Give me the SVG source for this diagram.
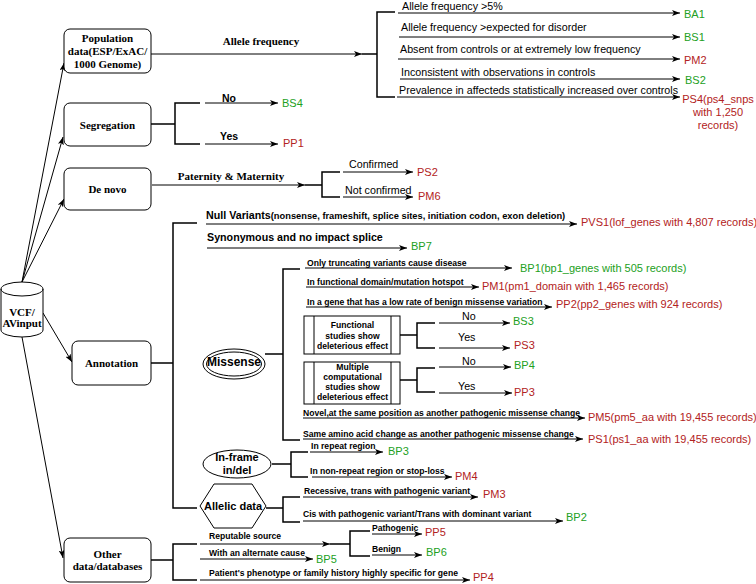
<svg xmlns="http://www.w3.org/2000/svg" width="756" height="584" viewBox="0 0 756 584">
<defs>
<marker id="a" markerWidth="8" markerHeight="6" refX="8" refY="3" orient="auto" markerUnits="userSpaceOnUse">
<path d="M0,0 L8,3 L0,6 L2,3 z" fill="#000"/>
</marker>
<style>
.box{fill:#fff;stroke:#000;stroke-width:1}
.ser{font-family:"Liberation Serif","Times New Roman",serif;font-weight:bold;font-size:11px;text-anchor:middle;fill:#000}
.l{font-family:"Liberation Sans",Arial,sans-serif;font-size:10.7px;fill:#000}
.b{font-family:"Liberation Sans",Arial,sans-serif;font-weight:bold;font-size:8.6px;fill:#000}
.bm{font-family:"Liberation Sans",Arial,sans-serif;font-weight:bold;fill:#000}
.o{font-family:"Liberation Sans",Arial,sans-serif;font-size:11px}
.g{fill:#22a022}
.r{fill:#b22222}
.ln{stroke:#000;stroke-width:1;fill:none}
.br{stroke:#000;stroke-width:1.5;fill:none}
.ar{marker-end:url(#a)}
</style>
</defs>
<rect width="756" height="584" fill="#fff"/>

<g id="connectors">
<!-- from VCF -->
<line class="ln ar" x1="22" y1="282" x2="64" y2="63"/>
<line class="ln ar" x1="22" y1="282" x2="63" y2="137"/>
<line class="ln ar" x1="22" y1="282" x2="64" y2="199"/>
<line class="ln ar" x1="43" y1="313" x2="72" y2="362"/>
<line class="ln ar" x1="22" y1="337" x2="63" y2="558"/>

<!-- population -->
<line class="ln ar" x1="151" y1="54" x2="362" y2="54"/>
<path class="br" d="M362,54 H377 M395,12 H377 V97 H395"/>
<line class="ln ar" x1="398" y1="13" x2="680" y2="13"/>
<line class="ln ar" x1="399" y1="37" x2="680" y2="37"/>
<line class="ln ar" x1="398" y1="59" x2="680" y2="59"/>
<line class="ln ar" x1="400" y1="79" x2="680" y2="79"/>
<line class="ln ar" x1="397" y1="97" x2="680" y2="97"/>
<text class="ser" x="261" y="45">Allele frequency</text>
<text class="l" x="402" y="10">Allele frequency &gt;5%</text>
<text class="l" x="401" y="31">Allele frequency &gt;expected for disorder</text>
<text class="l" x="400" y="53">Absent from controls or at extremely low frequency</text>
<text class="l" x="401" y="76">Inconsistent with observations in controls</text>
<text class="l" x="399" y="94">Prevalence in affecteds statistically increased over controls</text>

<!-- segregation -->
<path class="br" d="M151,124 H175 M200,103 H175 V144 H200"/>
<line class="ln ar" x1="205" y1="103" x2="278" y2="103"/>
<line class="ln ar" x1="205" y1="144" x2="278" y2="144"/>
<text class="bm" x="222" y="102" font-size="10.5">No</text>
<text class="bm" x="220" y="139.5" font-size="10.5">Yes</text>

<!-- de novo -->
<line class="ln ar" x1="152" y1="185" x2="305" y2="185"/>
<path class="br" d="M305,185 H322 M340,172 H322 V197 H340"/>
<line class="ln ar" x1="343" y1="172" x2="413" y2="172"/>
<line class="ln ar" x1="343" y1="197" x2="413" y2="197"/>
<text class="ser" x="231" y="180">Paternity &amp; Maternity</text>
<text class="l" x="349" y="168">Confirmed</text>
<text class="l" x="345" y="194">Not confirmed</text>

<!-- annotation -->
<path class="br" d="M151,363 H173 M197,223 H173 V508 H197"/>
<line class="ln ar" x1="206" y1="224" x2="577" y2="224"/>
<line class="ln ar" x1="207" y1="248" x2="407" y2="248"/>
<text class="bm" x="206" y="219"><tspan font-size="10.7">Null Variants</tspan><tspan font-size="9.3">(nonsense, frameshift, splice sites, initiation codon, exon deletion)</tspan></text>
<text class="bm" x="207" y="241" font-size="10.7">Synonymous and no impact splice</text>

<!-- missense -->
<path class="br" d="M265,354 H283 M300,269 H283 V440 H300"/>
<line class="ln ar" x1="305" y1="268" x2="512" y2="268"/>
<line class="ln ar" x1="306" y1="287" x2="479" y2="287"/>
<line class="ln ar" x1="306" y1="307" x2="552" y2="307"/>
<line class="ln ar" x1="303" y1="418" x2="585" y2="418"/>
<line class="ln ar" x1="303" y1="439" x2="583" y2="439"/>
<text class="b" x="307" y="266">Only truncating variants cause disease</text>
<text class="b" x="307" y="285">In functional domain/mutation hotspot</text>
<text class="b" x="307" y="304.5">In a gene that has a low rate of benign missense variation</text>
<text class="b" x="303" y="416">Novel,at the same position as another pathogenic missense change</text>
<text class="b" x="303" y="436.5">Same amino acid change as another pathogenic missense change</text>

<path class="br" d="M400,335 H417 M435,323 H417 V348 H435"/>
<line class="ln ar" x1="439" y1="323" x2="510" y2="323"/>
<line class="ln ar" x1="439" y1="348" x2="510" y2="348"/>
<text class="l" x="462" y="319.5">No</text>
<text class="l" x="458" y="341">Yes</text>

<path class="br" d="M400,380 H417 M435,368 H417 V392 H435"/>
<line class="ln ar" x1="439" y1="367" x2="511" y2="367"/>
<line class="ln ar" x1="439" y1="393" x2="512" y2="393"/>
<text class="l" x="462" y="365">No</text>
<text class="l" x="458" y="390">Yes</text>

<!-- in-frame -->
<path class="br" d="M272,464 H291 M308,452 H291 V477 H308"/>
<line class="ln ar" x1="310" y1="452" x2="383" y2="452"/>
<line class="ln ar" x1="312" y1="477" x2="452" y2="477"/>
<text class="b" x="311" y="449">In repeat region</text>
<text class="b" x="310" y="473.5">In non-repeat region or stop-loss</text>

<!-- allelic -->
<path class="br" d="M266,508 H283 M300,497 H283 V522 H300"/>
<line class="ln ar" x1="303" y1="497" x2="478" y2="497"/>
<line class="ln ar" x1="303" y1="521" x2="563" y2="521"/>
<text class="b" x="304" y="493.5">Recessive, trans with pathogenic variant</text>
<text class="b" x="303" y="516.5">Cis with pathogenic variant/Trans with dominant variant</text>

<!-- other -->
<path class="br" d="M151,560 H173 M197,544 H173 V580 H197"/>
<line class="ln ar" x1="200" y1="544" x2="330" y2="544"/>
<path class="br" d="M330,544 H350 M370,531 H350 V556 H370"/>
<line class="ln ar" x1="372" y1="534" x2="422" y2="534"/>
<line class="ln ar" x1="372" y1="555" x2="422" y2="555"/>
<line class="ln ar" x1="200" y1="559" x2="313" y2="559"/>
<line class="ln ar" x1="200" y1="580" x2="470" y2="580"/>
<text class="b" x="209" y="539">Reputable source</text>
<text class="b" x="372" y="531">Pathogenic</text>
<text class="b" x="372" y="552">Benign</text>
<text class="b" x="209" y="556">With an alternate cause</text>
<text class="b" x="209" y="575.5">Patient's phenotype or family history highly specific for gene</text>
</g>

<g id="vcf">
<path class="box" d="M1,289 A21,7 0 0 1 43,289 V330 A21,7 0 0 1 1,330 Z"/>
<path class="ln" d="M1,289 A21,7 0 0 0 43,289"/>
<text class="ser" x="22" y="316">VCF/</text>
<text class="ser" x="22" y="327">AVinput</text>
</g>

<g id="population">
<rect class="box" x="64" y="29" width="87" height="44" rx="6"/>
<text class="ser" x="107.5" y="41.5">Population</text>
<text class="ser" x="107.5" y="54.5">data(ESP/ExAC/</text>
<text class="ser" x="107.5" y="67.5">1000 Genome)</text>
</g>

<g id="segregation">
<rect class="box" x="64" y="103" width="87" height="43" rx="6"/>
<text class="ser" x="107.5" y="129">Segregation</text>
</g>

<g id="denovo">
<rect class="box" x="64" y="168" width="87" height="42" rx="6"/>
<text class="ser" x="107.5" y="193">De novo</text>
</g>

<g id="annotation">
<rect class="box" x="72" y="341" width="79" height="44" rx="6"/>
<text class="ser" x="111.5" y="367">Annotation</text>
</g>

<g id="other">
<rect class="box" x="64" y="538" width="87" height="44" rx="6"/>
<text class="ser" x="107.5" y="558">Other</text>
<text class="ser" x="107.5" y="570">data/databases</text>
</g>

<g id="missense">
<ellipse class="box" cx="234" cy="364" rx="31" ry="15"/>
<ellipse class="ln" cx="234" cy="364" rx="27.5" ry="12"/>
<text class="bm" x="234" y="365.5" font-size="12" text-anchor="middle">Missense</text>
</g>

<g id="functional">
<rect class="box" x="304" y="316" width="96" height="38"/>
<path class="ln" d="M314,316 V354 M391,316 V354"/>
<text class="b" x="352.5" y="328" text-anchor="middle">Functional</text>
<text class="b" x="352.5" y="338.5" text-anchor="middle">studies show</text>
<text class="b" x="352.5" y="349" text-anchor="middle">deleterious effect</text>
</g>

<g id="computational">
<rect class="box" x="304" y="362" width="96" height="42"/>
<path class="ln" d="M314,362 V404 M391,362 V404"/>
<text class="b" x="352.5" y="370" text-anchor="middle">Multiple</text>
<text class="b" x="352.5" y="380" text-anchor="middle">computational</text>
<text class="b" x="352.5" y="390" text-anchor="middle">studies show</text>
<text class="b" x="352.5" y="400" text-anchor="middle">deleterious effect</text>
</g>

<g id="inframe">
<ellipse class="box" cx="237" cy="464" rx="34" ry="14"/>
<text class="bm" x="237" y="461" font-size="11" text-anchor="middle">In-frame</text>
<text class="bm" x="237" y="474" font-size="11" text-anchor="middle">in/del</text>
</g>

<g id="allelic">
<polygon class="box" points="200,506 214,484 252,484 266,506 252,528 214,528"/>
<text class="bm" x="233" y="509.5" font-size="11" text-anchor="middle">Allelic data</text>
</g>

<g id="BA1"><text class="o g" x="684" y="18">BA1</text></g>
<g id="BS1"><text class="o g" x="684" y="41">BS1</text></g>
<g id="PM2"><text class="o r" x="684" y="64">PM2</text></g>
<g id="BS2"><text class="o g" x="685" y="84">BS2</text></g>
<g id="PS4"><text class="o r" x="718" y="103" text-anchor="middle">PS4(ps4_snps</text><text class="o r" x="718" y="116" text-anchor="middle">with 1,250</text><text class="o r" x="718" y="129" text-anchor="middle">records)</text></g>
<g id="BS4"><text class="o g" x="282" y="107">BS4</text></g>
<g id="PP1"><text class="o r" x="283" y="147">PP1</text></g>
<g id="PS2"><text class="o r" x="417" y="176">PS2</text></g>
<g id="PM6"><text class="o r" x="418" y="200">PM6</text></g>
<g id="PVS1"><text class="o r" x="581" y="226">PVS1(lof_genes with 4,807 records)</text></g>
<g id="BP7"><text class="o g" x="411" y="250">BP7</text></g>
<g id="BP1"><text class="o g" x="520" y="272">BP1(bp1_genes with 505 records)</text></g>
<g id="PM1"><text class="o r" x="482" y="290">PM1(pm1_domain with 1,465 records)</text></g>
<g id="PP2"><text class="o r" x="556" y="308">PP2(pp2_genes with 924 records)</text></g>
<g id="BS3"><text class="o g" x="513" y="325">BS3</text></g>
<g id="PS3"><text class="o r" x="514" y="349">PS3</text></g>
<g id="BP4"><text class="o g" x="514" y="369">BP4</text></g>
<g id="PP3"><text class="o r" x="514" y="396">PP3</text></g>
<g id="PM5"><text class="o r" x="588" y="421">PM5(pm5_aa with 19,455 records)</text></g>
<g id="PS1"><text class="o r" x="588" y="443">PS1(ps1_aa with 19,455 records)</text></g>
<g id="BP3"><text class="o g" x="388" y="455">BP3</text></g>
<g id="PM4"><text class="o r" x="455" y="480">PM4</text></g>
<g id="PM3"><text class="o r" x="483" y="498">PM3</text></g>
<g id="BP2"><text class="o g" x="566" y="521">BP2</text></g>
<g id="PP5"><text class="o r" x="425" y="536">PP5</text></g>
<g id="BP6"><text class="o g" x="426" y="556">BP6</text></g>
<g id="BP5"><text class="o g" x="316" y="563">BP5</text></g>
<g id="PP4"><text class="o r" x="473" y="581">PP4</text></g>
</svg>
